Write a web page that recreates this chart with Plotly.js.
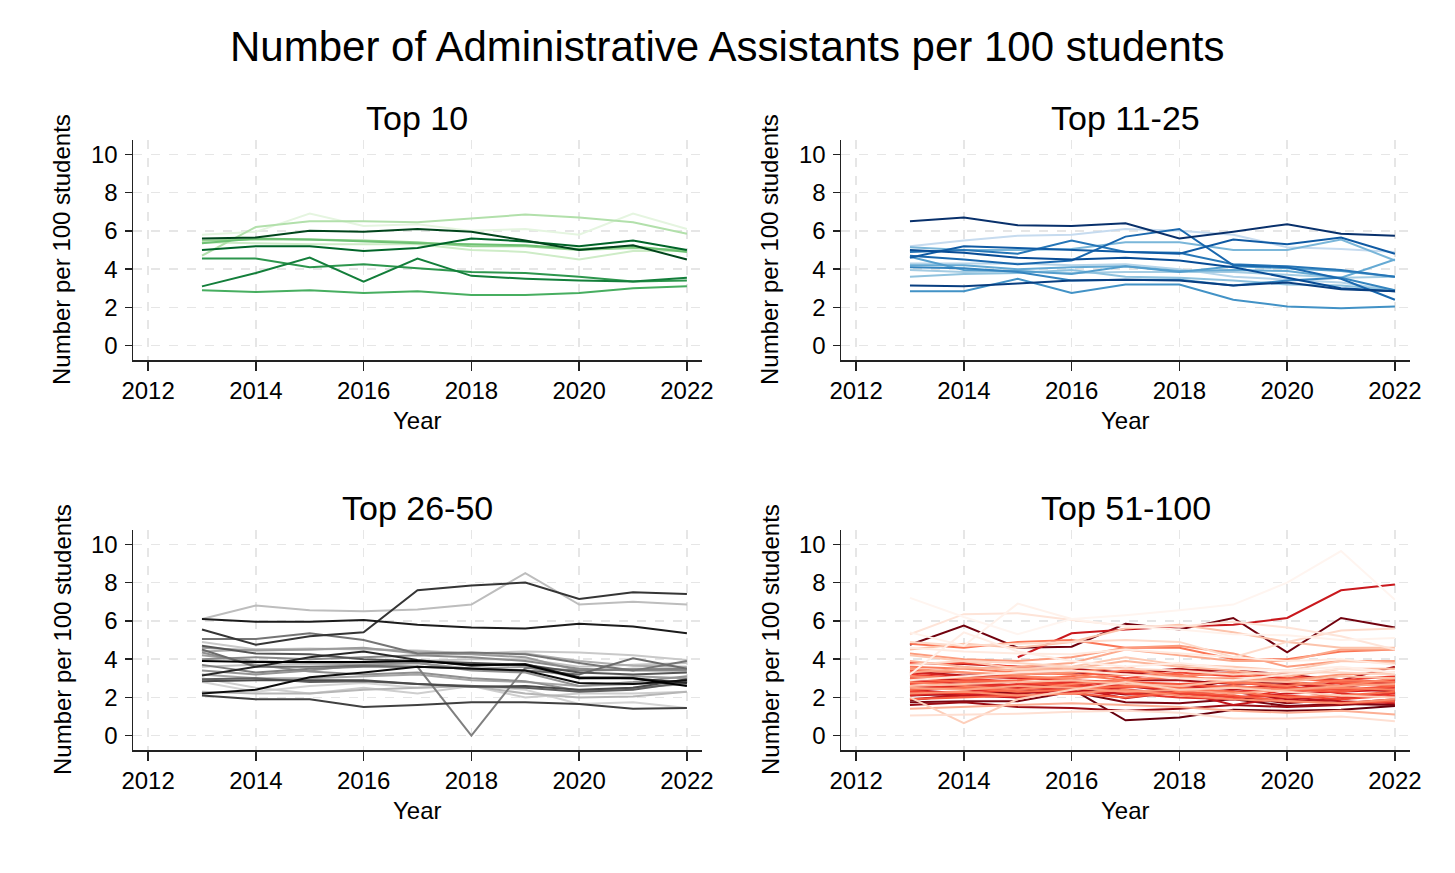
<!DOCTYPE html>
<html>
<head>
<meta charset="utf-8">
<script src="https://cdn.plot.ly/plotly-3.0.1.min.js"></script>
<style>
  html, body { margin: 0; padding: 0; background: #fff; }
  #chart { width: 1455px; height: 873px; }
</style>
</head>
<body>
<div id="chart"></div>
<script>
// years on the x axis
const years = [2013, 2014, 2015, 2016, 2017, 2018, 2019, 2020, 2021, 2022]

// one row per school, ordered light -> dark colour
const top10 = [
  [5.8, 5.95, 6.9, 6.25, 6.35, 6.0, 6.1, 5.8, 6.9, 6.1],
  [5.4, 5.35, 5.3, 5.3, 5.3, 5.0, 4.9, 4.5, 4.95, 4.95],
  [4.7, 6.2, 6.5, 6.5, 6.45, 6.65, 6.85, 6.7, 6.45, 5.85],
  [5.5, 5.55, 5.55, 5.5, 5.4, 5.2, 5.2, 5.0, 5.1, 5.0],
  [5.35, 5.6, 5.55, 5.45, 5.35, 5.3, 5.25, 5.05, 5.2, 4.9],
  [2.9, 2.8, 2.9, 2.75, 2.85, 2.65, 2.65, 2.75, 3.0, 3.1],
  [4.55, 4.55, 4.1, 4.25, 4.05, 3.85, 3.8, 3.6, 3.35, 3.4],
  [3.1, 3.8, 4.6, 3.35, 4.55, 3.65, 3.5, 3.4, 3.35, 3.55],
  [5.0, 5.2, 5.2, 4.95, 5.1, 5.6, 5.45, 5.2, 5.5, 5.0],
  [5.6, 5.65, 6.0, 5.95, 6.1, 5.95, 5.5, 5.0, 5.25, 4.5]
]

const top11_25 = [
  [5.2, 5.5, 5.75, 5.8, 6.1, 6.0, 5.8, 5.15, 5.05, 4.9],
  [4.3, 4.3, 4.3, 4.2, 4.25, 4.0, 3.6, 3.45, 3.3, 2.9],
  [3.95, 3.85, 3.9, 3.8, 3.85, 3.85, 3.85, 3.7, 3.55, 3.6],
  [3.6, 3.75, 3.8, 3.95, 3.6, 3.55, 3.4, 3.2, 3.15, 2.9],
  [5.15, 5.0, 5.0, 5.05, 5.4, 5.4, 5.0, 5.0, 5.55, 4.45],
  [4.2, 4.2, 4.0, 4.1, 4.15, 3.9, 3.95, 3.9, 3.55, 4.5],
  [4.65, 3.95, 3.9, 3.75, 4.15, 3.85, 4.15, 4.05, 3.9, 3.6],
  [2.85, 2.85, 3.5, 2.75, 3.2, 3.2, 2.4, 2.05, 1.95, 2.05],
  [4.1, 4.05, 3.85, 3.4, 3.45, 3.45, 3.15, 3.4, 3.55, 2.9],
  [4.9, 5.0, 4.8, 5.5, 4.9, 4.85, 4.25, 4.15, 3.95, 3.6],
  [4.7, 4.5, 4.25, 4.45, 5.7, 6.1, 4.2, 4.1, 3.5, 2.4],
  [4.6, 5.2, 5.1, 5.0, 4.9, 4.8, 5.55, 5.3, 5.65, 4.8],
  [5.0, 4.85, 4.6, 4.5, 4.6, 4.45, 4.1, 3.55, 3.0, 2.85],
  [3.15, 3.1, 3.25, 3.4, 3.45, 3.4, 3.15, 3.3, 2.95, 2.85],
  [6.5, 6.7, 6.3, 6.25, 6.4, 5.6, 5.95, 6.35, 5.85, 5.75]
]

const top26_50 = [
  [2.8, 2.3, 2.6, 2.75, 2.5, 2.6, 2.4, 1.65, 1.75, 1.45],
  [3.0, 2.5, 2.2, 2.5, 2.2, 2.6, 2.0, 2.2, 2.2, 2.3],
  [4.9, 4.5, 4.55, 4.5, 4.45, 4.3, 4.4, 4.35, 4.2, 3.95],
  [3.6, 3.7, 3.75, 3.8, 3.9, 4.0, 4.0, 3.6, 3.7, 3.8],
  [6.1, 6.8, 6.55, 6.5, 6.6, 6.85, 8.5, 6.85, 7.0, 6.85],
  [2.3, 2.2, 2.2, 2.4, 2.5, 2.6, 2.2, 2.0, 2.05, 2.3],
  [4.4, 4.5, 4.5, 4.55, 4.4, 4.3, 4.3, 3.9, 3.65, 3.6],
  [3.2, 3.0, 3.0, 3.1, 3.2, 2.9, 2.8, 2.6, 2.7, 2.8],
  [4.2, 3.9, 3.8, 3.7, 3.8, 3.5, 3.6, 3.0, 3.1, 3.0],
  [4.6, 4.45, 4.5, 4.6, 4.3, 4.25, 4.1, 3.4, 3.5, 3.5],
  [3.4, 3.2, 3.4, 3.7, 3.8, 3.4, 3.3, 2.6, 2.8, 3.1],
  [4.35, 3.7, 3.35, 3.2, 3.3, 3.0, 2.85, 2.35, 2.5, 2.7],
  [4.0, 4.1, 4.0, 4.1, 4.2, 4.1, 3.9, 3.5, 3.4, 3.4],
  [3.7, 3.3, 3.5, 3.6, 3.6, 0.0, 3.55, 3.4, 3.45, 3.5],
  [5.05, 5.05, 5.35, 5.0, 4.3, 4.35, 4.25, 3.8, 3.4, 3.9],
  [4.5, 3.6, 3.6, 3.65, 3.6, 3.5, 3.4, 3.2, 4.05, 3.5],
  [2.95, 3.0, 2.8, 2.85, 2.7, 2.6, 2.5, 2.3, 2.4, 2.8],
  [4.7, 4.3, 4.25, 4.0, 3.9, 3.8, 3.7, 3.3, 3.2, 3.3],
  [2.85, 2.9, 2.9, 2.9, 2.7, 2.55, 2.6, 2.4, 2.5, 2.95],
  [2.1, 1.9, 1.9, 1.5, 1.6, 1.75, 1.75, 1.65, 1.4, 1.45],
  [5.55, 4.75, 5.2, 5.4, 7.6, 7.85, 8.0, 7.15, 7.5, 7.4],
  [3.15, 3.6, 4.1, 4.4, 3.95, 3.65, 3.75, 3.05, 3.0, 2.75],
  [6.1, 5.95, 5.95, 6.05, 5.8, 5.65, 5.6, 5.85, 5.7, 5.35],
  [2.2, 2.4, 3.05, 3.3, 3.6, 3.5, 3.4, 2.75, 2.7, 2.9],
  [3.9, 3.85, 3.85, 3.85, 3.9, 3.7, 3.7, 3.0, 3.0, 2.6]
]

const top51_100 = [
  [7.2, 6.2, 5.3, 6.1, 6.3, 6.55, 6.85, 8.0, 9.65, 7.1],
  [5.4, 4.7, 6.9, 6.1, 5.7, 5.55, 5.3, 5.25, 5.0, 5.1],
  [3.2, 5.4, 4.4, 3.9, 3.6, 3.8, 3.5, 3.4, 3.6, 3.3],
  [4.6, 4.4, 4.3, 4.25, 4.5, 4.3, 4.1, 3.9, 4.0, 3.7],
  [2.9, 3.1, 3.3, 3.4, 3.2, 3.0, 2.9, 3.2, 3.5, 3.3],
  [5.3, 6.35, 6.4, 6.05, 5.75, 5.7, 5.95, 5.65, 5.2, 4.5],
  [1.05, 1.1, 1.15, 1.25, 1.3, 1.2, 0.9, 0.9, 1.0, 0.75],
  [4.9, 4.7, 4.8, 4.9, 5.0, 4.9, 4.1, 4.9, 5.5, 5.6],
  [3.7, 3.9, 3.8, 3.6, 3.5, 3.4, 3.2, 3.3, 3.3, 3.2],
  [2.0, 0.65, 1.9, 2.4, 2.8, 2.4, 2.5, 2.3, 2.1, 2.0],
  [4.2, 3.9, 3.5, 3.6, 4.1, 3.7, 3.6, 3.4, 3.9, 3.8],
  [4.5, 4.8, 4.6, 4.9, 5.6, 5.8, 5.4, 4.9, 4.6, 4.6],
  [2.6, 2.7, 2.8, 2.9, 2.7, 2.6, 2.9, 2.8, 3.1, 3.0],
  [3.9, 3.6, 3.4, 3.5, 3.9, 3.6, 3.4, 3.1, 3.5, 3.5],
  [1.4, 1.5, 1.6, 1.7, 1.6, 1.5, 1.3, 1.2, 1.3, 1.1],
  [3.3, 3.5, 3.6, 3.8, 4.5, 4.2, 3.9, 3.9, 4.5, 4.5],
  [2.5, 2.4, 2.6, 2.5, 2.3, 2.4, 2.2, 2.4, 2.6, 2.7],
  [4.3, 4.0, 3.9, 4.1, 4.6, 4.7, 4.3, 3.6, 3.9, 3.9],
  [3.5, 3.3, 3.2, 3.3, 3.6, 3.0, 3.0, 2.9, 3.2, 3.3],
  [2.2, 2.3, 2.1, 2.2, 2.4, 2.1, 1.9, 1.8, 1.7, 1.9],
  [3.1, 3.0, 3.1, 3.0, 3.2, 3.1, 3.3, 2.8, 2.6, 3.0],
  [2.8, 2.6, 2.4, 2.7, 2.9, 2.3, 2.6, 2.4, 2.5, 2.4],
  [3.6, 3.5, 3.3, 3.2, 2.9, 3.1, 2.8, 2.6, 2.9, 2.8],
  [4.8, 4.6, 4.9, 5.0, 4.6, 4.6, 4.0, 4.0, 4.4, 4.5],
  [2.4, 2.5, 2.3, 2.4, 2.6, 2.5, 2.3, 2.0, 2.1, 2.3],
  [3.0, 2.8, 2.9, 3.1, 3.4, 3.2, 2.7, 3.0, 2.8, 2.6],
  [1.9, 2.0, 2.1, 2.2, 2.0, 2.3, 2.1, 1.8, 1.7, 1.8],
  [3.4, 3.3, 3.1, 2.9, 2.8, 2.7, 2.5, 2.4, 2.3, 2.6],
  [2.7, 2.9, 2.8, 2.6, 2.5, 2.7, 2.8, 2.5, 2.4, 2.6],
  [3.8, 3.8, 3.6, 3.4, 3.0, 3.3, 3.1, 3.2, 2.7, 2.9],
  [2.3, 2.2, 2.4, 2.6, 2.3, 2.2, 2.0, 2.1, 1.9, 2.1],
  [3.2, 3.0, 2.8, 2.7, 2.9, 3.1, 3.3, 3.0, 2.9, 3.1],
  [2.6, 2.5, 2.7, 2.9, 2.2, 2.0, 1.9, 2.4, 2.0, 2.2],
  [2.9, 2.7, 2.6, 2.8, 2.6, 2.4, 2.3, 2.5, 2.4, 2.5],
  [2.1, 2.3, 2.5, 2.4, 2.7, 2.5, 2.2, 2.6, 2.2, 2.0],
  [3.3, 3.1, 3.0, 2.9, 2.7, 2.5, 2.6, 2.4, 2.8, 2.7],
  [2.4, 2.2, 2.0, 2.3, 2.2, 2.4, 2.0, 2.2, 2.3, 2.4],
  [null, null, 4.1, 5.35, 5.55, 5.7, 5.8, 6.15, 7.6, 7.9],
  [1.9, 2.1, 2.0, 2.5, 1.95, 2.3, 1.6, 2.0, 1.8, 1.7],
  [3.0, 2.9, 2.6, 2.7, 2.4, 2.2, 2.4, 2.7, 2.5, 2.9],
  [2.2, 2.1, 2.2, 2.4, 2.6, 2.3, 2.3, 1.9, 1.7, 1.9],
  [3.8, 3.75, 3.6, 3.5, 3.3, 3.5, 3.2, 3.0, 2.9, 2.8],
  [3.35, 3.15, 3.2, 3.3, 3.2, 3.45, 3.4, 3.2, 2.9, 3.6],
  [2.5, 2.6, 2.5, 2.7, 2.9, 2.9, 2.7, 2.8, 2.6, 2.9],
  [1.6, 1.75, 1.5, 1.45, 1.3, 1.4, 1.6, 1.5, 1.6, 1.8],
  [2.1, 2.2, 2.3, 2.45, 2.15, 2.2, 2.05, 1.7, 1.9, 2.25],
  [2.8, 2.85, 2.6, 2.75, 2.8, 2.4, 2.9, 2.75, 2.5, 2.3],
  [1.75, 1.8, 1.8, 2.3, 1.75, 1.7, 1.9, 1.55, 1.65, 1.6],
  [4.75, 5.75, 4.6, 4.65, 5.85, 5.55, 6.15, 4.35, 6.15, 5.65],
  [1.85, 2.15, 2.2, 2.45, 0.8, 0.95, 1.35, 1.3, 1.35, 1.55]
]

const panelTitles = ['Top 10', 'Top 11-25', 'Top 26-50', 'Top 51-100']
const xTicks = [2012, 2014, 2016, 2018, 2020, 2022]
const yTicks = [0, 2, 4, 6, 8, 10]

// colour ramps (light -> dark)
const greens = ['#e5f5e0', '#c7e9c0', '#a1d99b', '#74c476', '#41ab5d', '#238b45', '#006d2c', '#00441b']
const blues  = ['#c6dbef', '#9ecae1', '#6baed6', '#4292c6', '#2171b5', '#08519c', '#08306b']
const greys  = ['#d4d4d4', '#bdbdbd', '#a0a0a0', '#8a8a8a', '#606060', '#353535', '#000000']
const reds   = ['#fff5f0', '#fee0d2', '#fcbba1', '#fc9272', '#fb6a4a', '#ef3b2c', '#cb181d', '#a50f15', '#67000d']

function hex2rgb(h) {
  return [1, 3, 5].map(i => parseInt(h.substr(i, 2), 16))
}
function ramp(stops, n) {
  let out = []
  for (let i = 0; i < n; i++) {
    let t = n == 1 ? 0 : i / (n - 1) * (stops.length - 1)
    let k = Math.min(Math.floor(t), stops.length - 2)
    let f = t - k
    let a = hex2rgb(stops[k]), b = hex2rgb(stops[k + 1])
    let c = a.map((v, j) => Math.round(v + (b[j] - v) * f))
    out.push('rgb(' + c.join(',') + ')')
  }
  return out
}

const W = 1455, H = 873
// plot boxes in page pixels
const boxes = [
  {x0: 133, x1: 702, y0: 140, y1: 360},
  {x0: 841, x1: 1410, y0: 140, y1: 360},
  {x0: 133, x1: 702, y0: 530, y1: 750},
  {x0: 841, x1: 1410, y0: 530, y1: 750}
]
const groups = [top10, top11_25, top26_50, top51_100]
const palettes = [greens, blues, greys, reds]
// red panel: light lines sit on top of the dark ones
const drawLightLast = [false, false, false, true]

const font = 'Arial, "Liberation Sans", sans-serif'

let traces = []
let layout = {
  width: W, height: H,
  margin: {l: 0, r: 0, t: 0, b: 0},
  paper_bgcolor: '#fff', plot_bgcolor: '#fff',
  showlegend: false,
  font: {family: font, color: '#000'},
  annotations: [{
    text: 'Number of Administrative Assistants per 100 students',
    xref: 'paper', yref: 'paper', x: 727 / W, y: 1 - 46 / H,
    xanchor: 'center', yanchor: 'middle', showarrow: false,
    font: {size: 42, family: font, color: '#000'}
  }]
}

groups.forEach((rows, p) => {
  let b = boxes[p]
  let sfx = p == 0 ? '' : String(p + 1)
  let cols = ramp(palettes[p], rows.length)
  let order = rows.map((r, i) => i)
  if (drawLightLast[p]) order.reverse()
  order.forEach(i => {
    traces.push({
      x: years, y: rows[i], type: 'scatter', mode: 'lines',
      xaxis: 'x' + sfx, yaxis: 'y' + sfx,
      line: {color: cols[i], width: 2},
      hoverinfo: 'skip'
    })
  })

  layout['xaxis' + sfx] = {
    domain: [b.x0 / W, b.x1 / W], anchor: 'y' + sfx,
    range: [2011.72, 2022.28], tickvals: xTicks,
    ticks: 'outside', ticklen: 9, tickwidth: 1.5, tickcolor: '#222',
    showline: true, linecolor: '#222', linewidth: 1.5,
    showgrid: true, gridcolor: '#e6e6e6', gridwidth: 1.5, griddash: 'dash',
    zeroline: false, tickfont: {size: 24, family: font, color: '#000'}
  }
  layout['yaxis' + sfx] = {
    domain: [1 - b.y1 / H, 1 - b.y0 / H], anchor: 'x' + sfx,
    range: [-0.75, 10.75], tickvals: yTicks,
    ticks: 'outside', ticklen: 7, tickwidth: 1.5, tickcolor: '#222',
    ticklabelstandoff: 2,
    showline: true, linecolor: '#222', linewidth: 1.5,
    showgrid: true, gridcolor: '#e6e6e6', gridwidth: 1.5, griddash: 'dash',
    zeroline: false, tickfont: {size: 24, family: font, color: '#000'}
  }

  // panel title, y title, x title
  layout.annotations.push({
    text: panelTitles[p], xref: 'paper', yref: 'paper',
    x: (b.x0 + b.x1) / 2 / W, y: 1 - (b.y0 - 22) / H,
    xanchor: 'center', yanchor: 'middle', showarrow: false,
    font: {size: 34, family: font, color: '#000'}
  })
  layout.annotations.push({
    text: 'Number per 100 students', xref: 'paper', yref: 'paper',
    x: (b.x0 - 71) / W, y: 1 - (b.y0 + b.y1) / 2 / H, textangle: -90,
    xanchor: 'center', yanchor: 'middle', showarrow: false,
    font: {size: 24, family: font, color: '#000'}
  })
  layout.annotations.push({
    text: 'Year', xref: 'paper', yref: 'paper',
    x: (b.x0 + b.x1) / 2 / W, y: 1 - (b.y1 + 60) / H,
    xanchor: 'center', yanchor: 'middle', showarrow: false,
    font: {size: 24, family: font, color: '#000'}
  })
})

Plotly.newPlot('chart', traces, layout, {displayModeBar: false, staticPlot: true})
</script>
</body>
</html>
